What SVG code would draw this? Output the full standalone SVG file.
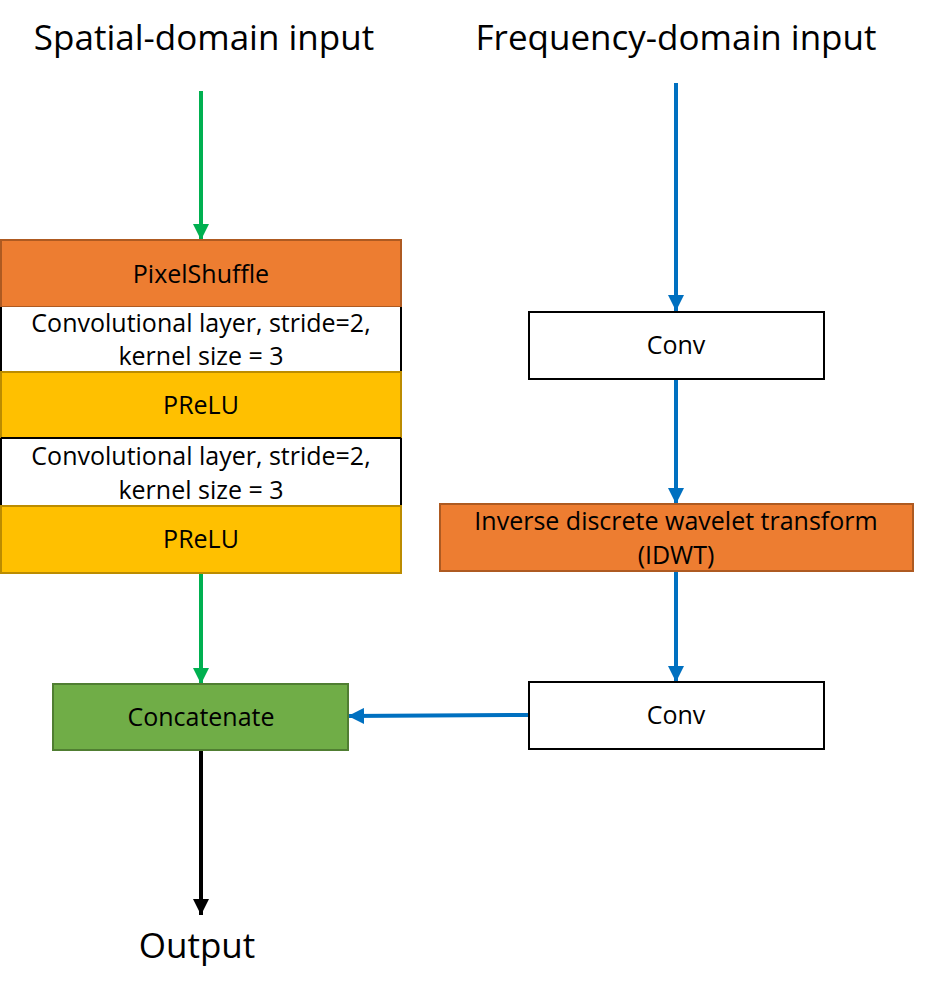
<svg xmlns="http://www.w3.org/2000/svg" width="925" height="995" viewBox="0 0 925 995">
<style>
text{font-family:"Open Sans","Noto Sans","Liberation Sans",sans-serif;fill:#000;text-anchor:middle}
.t{font-size:35px}
.b{font-size:25px}
.orange{fill:#ED7D31;stroke:#AE5A21;stroke-width:2}
.yellow{fill:#FFC000;stroke:#BC8C00;stroke-width:2}
.white{fill:#fff;stroke:#000;stroke-width:2}
.green{fill:#70AD47;stroke:#507E32;stroke-width:2}
.c{fill:none;stroke-width:4}
</style>
<defs>
<marker id="ag" viewBox="0 0 10 10" refX="10" refY="5" markerWidth="4" markerHeight="4" markerUnits="strokeWidth" orient="auto"><path d="M0,0L10,5L0,10z" fill="#00B050"/></marker>
<marker id="ab" viewBox="0 0 10 10" refX="10" refY="5" markerWidth="4" markerHeight="4" markerUnits="strokeWidth" orient="auto"><path d="M0,0L10,5L0,10z" fill="#0070C0"/></marker>
<marker id="ak" viewBox="0 0 10 10" refX="10" refY="5" markerWidth="4" markerHeight="4" markerUnits="strokeWidth" orient="auto"><path d="M0,0L10,5L0,10z" fill="#000"/></marker>
</defs>
<rect width="925" height="995" fill="#fff"/>
<g id="labels">
<text class="t" x="204" y="50">Spatial-domain input</text>
<text class="t" x="676" y="50">Frequency-domain input</text>
<text class="t" x="197" y="958">Output</text>
</g>
<g id="connectors">
<path class="c" d="M201,91V240" stroke="#00B050" marker-end="url(#ag)"/>
<path class="c" d="M201,573V684" stroke="#00B050" marker-end="url(#ag)"/>
<path class="c" d="M201,750V915" stroke="#000" marker-end="url(#ak)"/>
<path class="c" d="M676,83V311" stroke="#0070C0" marker-end="url(#ab)"/>
<path class="c" d="M676,379V504" stroke="#0070C0" marker-end="url(#ab)"/>
<path class="c" d="M676,571V682" stroke="#0070C0" marker-end="url(#ab)"/>
<path class="c" d="M529,715L348,716" stroke="#0070C0" marker-end="url(#ab)"/>
</g>
<g id="pixelshuffle"><rect class="orange" x="1" y="240" width="400" height="67"/><text class="b" x="201" y="283">PixelShuffle</text></g>
<g id="conv1"><rect x="1" y="307" width="400" height="65" fill="#fff"/><path d="M1,307V372M401,307V372" stroke="#000" stroke-width="2"/><text class="b" x="201" y="332">Convolutional layer, stride=2,</text><text class="b" x="201" y="365">kernel size = 3</text></g>
<g id="prelu1"><rect class="yellow" x="1" y="372" width="400" height="66"/><text class="b" x="201" y="414">PReLU</text></g>
<g id="conv2"><rect x="1" y="438" width="400" height="68" fill="#fff"/><path d="M1,438V506M401,438V506" stroke="#000" stroke-width="2"/><path d="M1,438H401" stroke="#000" stroke-width="2"/><text class="b" x="201" y="465">Convolutional layer, stride=2,</text><text class="b" x="201" y="499">kernel size = 3</text></g>
<g id="prelu2"><rect class="yellow" x="1" y="506" width="400" height="67"/><text class="b" x="201" y="548">PReLU</text></g>
<g id="concat"><rect class="green" x="53" y="684" width="295" height="66"/><text class="b" x="201" y="726">Concatenate</text></g>
<g id="convA"><rect class="white" x="529" y="312" width="295" height="67"/><text class="b" x="676" y="354">Conv</text></g>
<g id="idwt"><rect class="orange" x="440" y="504" width="473" height="67"/><text class="b" x="676" y="530">Inverse discrete wavelet transform</text><text class="b" x="676" y="564">(IDWT)</text></g>
<g id="convB"><rect class="white" x="529" y="682" width="295" height="67"/><text class="b" x="676" y="724">Conv</text></g>
</svg>
